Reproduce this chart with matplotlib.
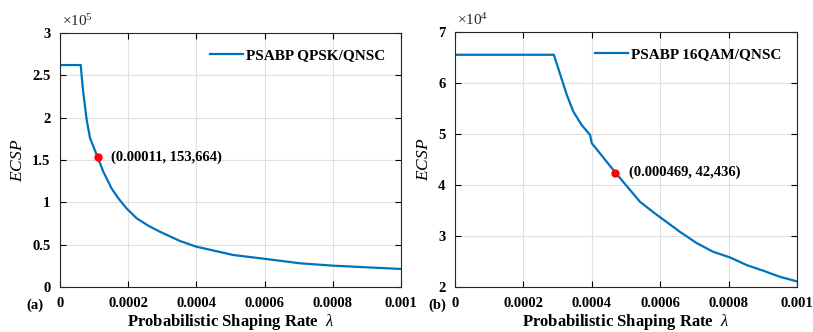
import matplotlib.pyplot as plt
import numpy as np

# PSABP QPSK/QNSC
rate_a = [0, 0.0000607, 0.0000645, 0.0000684, 0.0000782, 0.000088, 0.00011, 0.000127,
          0.000151, 0.000171, 0.000195, 0.000225, 0.000259, 0.000293, 0.000352, 0.0004,
          0.000508, 0.000606, 0.000704, 0.0008, 0.001]
ecsp_a = [262144, 262144, 245000, 229000, 197500, 176000, 153664, 136200,
          116600, 104800, 92900, 81100, 72400, 65300, 54300, 47600,
          37800, 33000, 28000, 25200, 21300]
mark_a = (0.00011, 153664)

# PSABP 16QAM/QNSC
rate_b = [0, 0.000289, 0.000327, 0.000346, 0.00037, 0.000395, 0.0004, 0.000469,
          0.000541, 0.000585, 0.000638, 0.000658, 0.000707, 0.000755, 0.000804,
          0.000853, 0.000901, 0.00095, 0.001]
ecsp_b = [65536, 65536, 57650, 54400, 51800, 49800, 48200, 42436,
          36700, 34400, 31800, 30800, 28600, 26900, 25800,
          24300, 23200, 22000, 21100]
mark_b = (0.000469, 42436)

xticks = [0, 0.0002, 0.0004, 0.0006, 0.0008, 0.001]
xticklabels = ['0', '0.0002', '0.0004', '0.0006', '0.0008', '0.001']

plt.rcParams['font.family'] = ['Liberation Serif', 'DejaVu Serif']
plt.rcParams['mathtext.fontset'] = 'custom'
plt.rcParams['mathtext.it'] = 'Liberation Serif:italic'
plt.rcParams['mathtext.rm'] = 'Liberation Serif'

blue = '#0072BD'
fig = plt.figure(figsize=(8.13, 3.32), dpi=100)
ax1 = fig.add_axes([60/813, 45/332, 341/813, 254/332])
ax2 = fig.add_axes([455/813, 45/332, 342/813, 255/332])

panels = [
    (ax1, rate_a, ecsp_a, mark_a, 'PSABP QPSK/QNSC', 1e5, (0, 3), np.arange(0, 3.01, 0.5),
     ['0', '0.5', '1', '1.5', '2', '2.5', '3'], 5, '(a)', -0.073, '(0.00011, 153,664)'),
    (ax2, rate_b, ecsp_b, mark_b, 'PSABP 16QAM/QNSC', 1e4, (2, 7), np.arange(2, 7.01, 1),
     ['2', '3', '4', '5', '6', '7'], 4, '(b)', -0.052, '(0.000469, 42,436)'),
]

for ax, xs, ys, mark, name, scale, ylim, yt, ytl, exp, tag, tag_x, note in panels:
    ax.plot(xs, np.array(ys) / scale, color=blue, lw=1.6, label=name)
    ax.plot(mark[0], mark[1] / scale, 'o', color='red', ms=5, zorder=5)
    ax.annotate(note, (mark[0], mark[1] / scale), xytext=(10, 0), textcoords='offset points',
                va='center', ha='left', fontsize=10.5, fontweight='bold')
    ax.set_xlim(0, 0.001)
    ax.set_ylim(*ylim)
    ax.set_xticks(xticks)
    ax.set_xticklabels(xticklabels)
    ax.set_yticks(yt)
    ax.set_yticklabels(ytl)
    ax.grid(True, color='#e0e0e0', lw=0.8)
    ax.tick_params(direction='in', top=True, right=True, labelsize=10.5, length=4,
                   width=0.8, pad=7)
    for lbl in ax.get_xticklabels() + ax.get_yticklabels():
        lbl.set_fontweight('bold')
    for s in ax.spines.values():
        s.set_linewidth(0.8)
        s.set_color('#262626')
    ax.set_xlabel(r'Probabilistic Shaping Rate  $\lambda$', fontsize=12, fontweight='bold',
                  labelpad=2)
    ax.set_ylabel(r'$ECSP$', fontsize=12.5, labelpad=4)
    ax.text(0.005, 1.015, r'$\times10^{%d}$' % exp, transform=ax.transAxes, fontsize=11,
            va='bottom', ha='left', color='#262626')
    ax.text(tag_x, -0.045, tag, transform=ax.transAxes, fontsize=10.5, fontweight='bold',
            va='top', ha='center')
    leg = ax.legend(loc='upper right', frameon=False, fontsize=11, handlelength=2.2,
                    handletextpad=0.2, borderaxespad=0.6)
    for t in leg.get_texts():
        t.set_fontweight('bold')

fig.savefig('out.png', dpi=100)
